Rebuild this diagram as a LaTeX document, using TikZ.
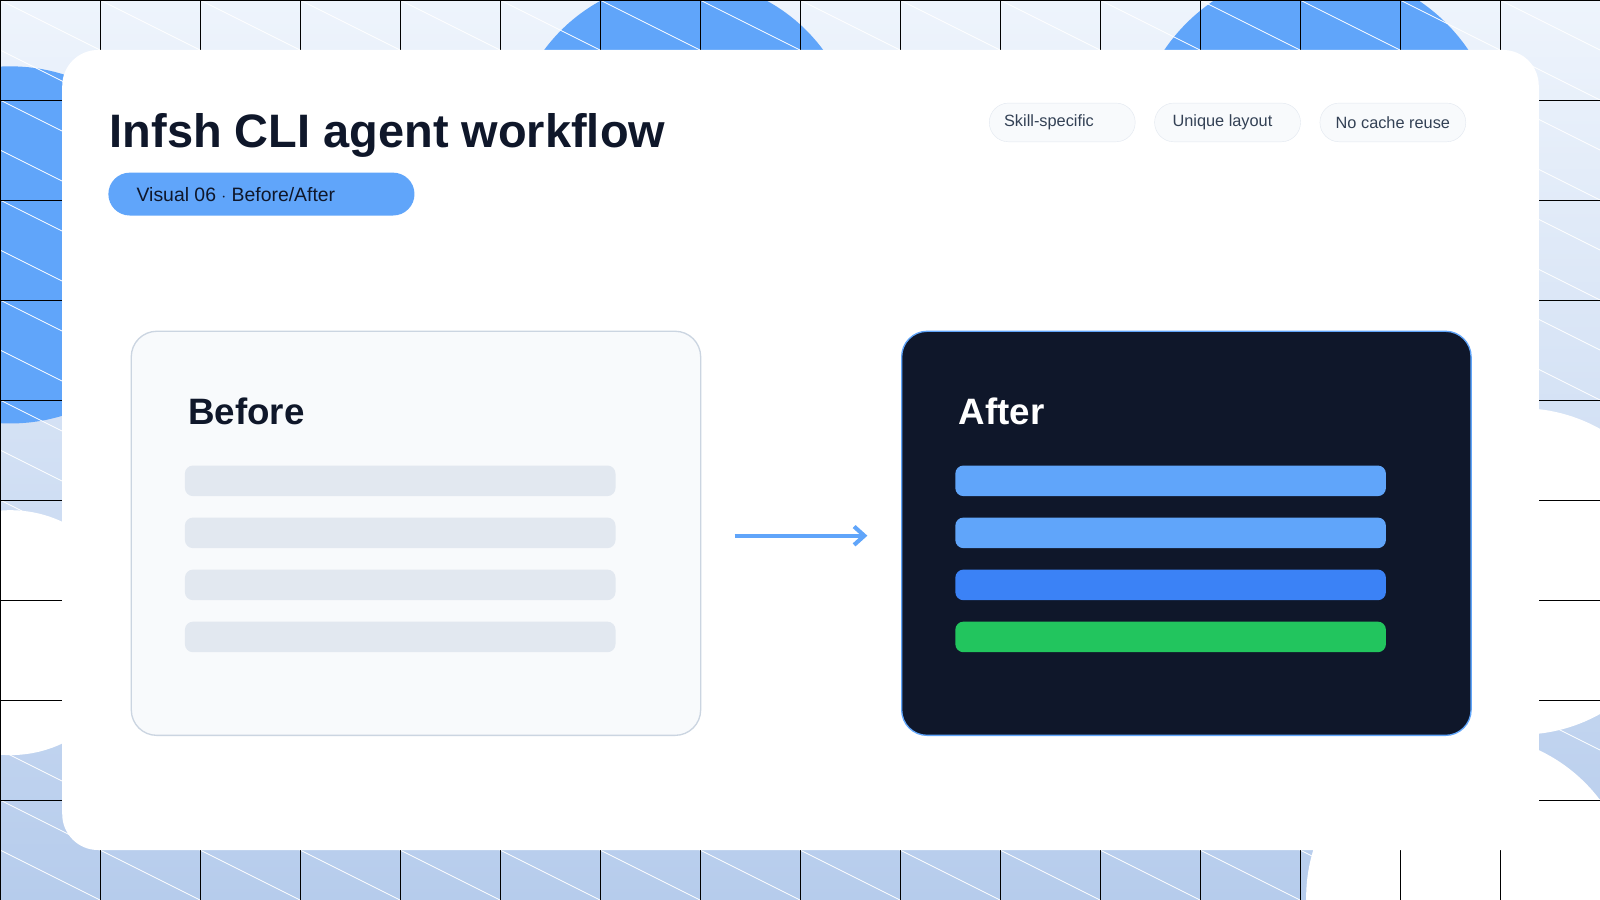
\documentclass[tikz,border=0pt]{standalone}
\usepackage{fontspec}
\setmainfont{Liberation Sans}
\usetikzlibrary{positioning,arrows.meta}
\definecolor{skyblue}{HTML}{60A5FA}
\definecolor{deepblue}{HTML}{3B82F6}
\definecolor{leaf}{HTML}{22C55E}
\definecolor{ink}{HTML}{0F172A}
\definecolor{mist}{HTML}{F8FAFC}
\definecolor{haze}{HTML}{E2E8F0}
\definecolor{rim}{HTML}{CBD5E1}
\definecolor{slate}{HTML}{334155}
\definecolor{bgtop}{HTML}{EEF4FC}
\definecolor{bgbot}{HTML}{B6CCEC}
\tikzset{
  tag/.style={draw=haze, fill=mist, rounded corners=19pt, minimum width=143pt,
    minimum height=38pt, font=\fontsize{16}{18}\selectfont, text=slate, inner sep=0pt},
  panel/.style={rounded corners=25pt, line width=1.3pt, minimum width=558pt,
    minimum height=396pt, inner sep=0pt},
  bar/.style={rounded corners=8pt, minimum width=422pt, minimum height=30pt, inner sep=0pt},
  heading/.style={font=\bfseries\fontsize{36}{40}\selectfont, anchor=base west}
}
\begin{document}
\begin{tikzpicture}[x=1pt, y=-1pt]
\useasboundingbox (0,0) rectangle (1568,882);
% background
\shade[top color=bgtop, bottom color=bgbot] (0,0) rectangle (1568,882);
\begin{scope}
\clip (0,0) rectangle (1568,882);
\fill[skyblue] (10,240) circle (175);
\fill[skyblue] (670,150) circle (170);
\fill[skyblue] (1290,150) circle (180);
\fill[white] (1490,560) circle (160);
\fill[white] (1440,880) circle (160);
\fill[white] (10,620) circle (120);
\foreach \i in {-20,...,20}
  \draw[white, line width=0.8pt] (\i*98,0) -- ++(1800,900);
\foreach \i in {0,...,16}
  \draw[black, line width=0.6pt] (\i*98,0) -- (\i*98,882);
\foreach \j in {0,...,9}
  \draw[black, line width=0.6pt] (0,\j*98) -- (1568,\j*98);
\end{scope}
% card
\fill[white, rounded corners=35pt] (61,49) rectangle (1508,833);
\node[font=\bfseries\fontsize{46}{50}\selectfont, text=ink, anchor=base west] (title) at (104,145) {Infsh CLI agent workflow};
\node[fill=skyblue, rounded corners=21pt, minimum width=300pt, minimum height=42pt,
  anchor=north west, inner sep=0pt, font=\fontsize{19}{22}\selectfont, text=ink] (badge) at (106,169)
  {\hspace*{-50pt}Visual 06 $\cdot$ Before/After};
\node[tag] (skill) at (1041,120) {\hspace*{-26pt}Skill-specific};
\node[tag] (layout) at (1203,120) {\hspace*{-10pt}Unique layout};
\node[tag] (cache) at (1365,120) {No cache reuse};
% panels
\node[panel, draw=rim, fill=mist, anchor=north west] (before) at (128,324) {};
\node[panel, draw=skyblue, fill=ink, anchor=north west] (after) at (883,324) {};
\node[heading, text=ink] (beforetitle) at (181,416) {Before};
\node[heading, text=white] (aftertitle) at (936,416) {After};
\foreach \k/\c in {0/skyblue,1/skyblue,2/deepblue,3/leaf} {
  \node[bar, fill=haze, anchor=north west] (b\k) at (181,456+\k*51) {};
  \node[bar, fill=\c, anchor=north west] (a\k) at (936,456+\k*51) {};
}
\coordinate (arrowstart) at (720,525);
\coordinate (arrowend) at (850,525);
\draw[skyblue, line width=4pt, -{Straight Barb[length=10pt,width=18pt]}] (arrowstart) -- (arrowend);
\end{tikzpicture}
\end{document}
